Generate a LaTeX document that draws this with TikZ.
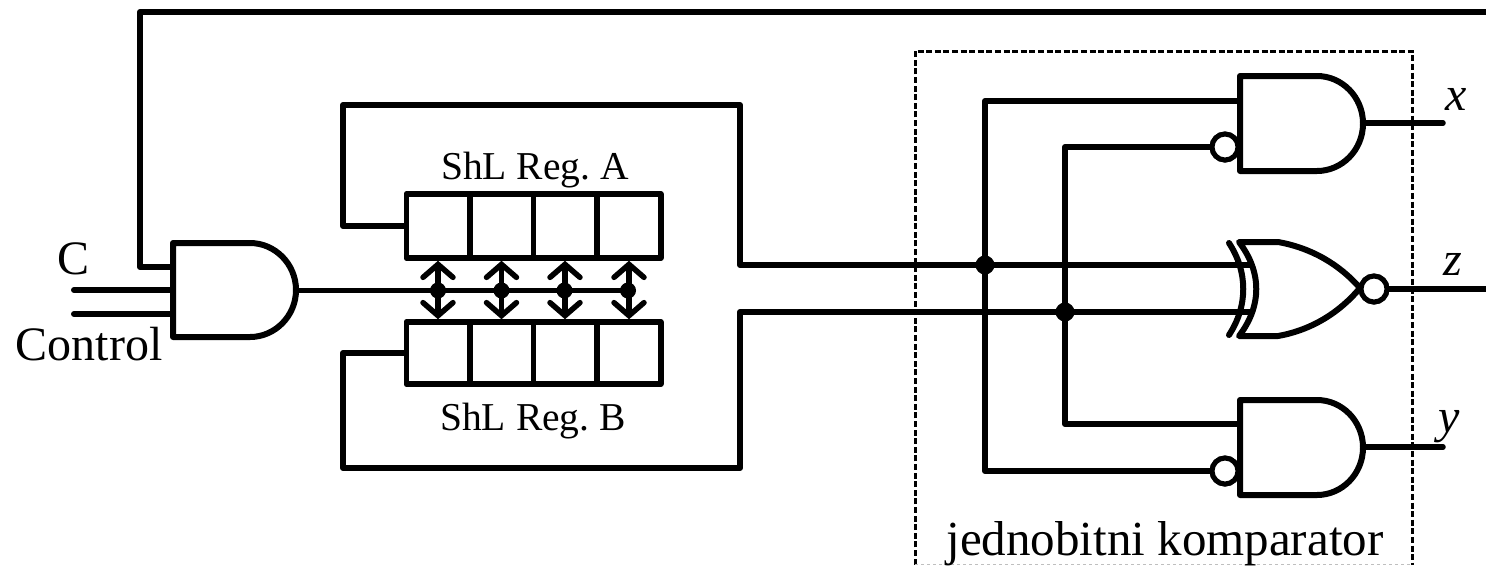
\documentclass[tikz,border=0pt]{standalone}
\usepackage{fontspec}
\setmainfont{Liberation Serif}
\usetikzlibrary{arrows.meta}
\frenchspacing
\tikzset{
  x=1pt,y=-1pt,
  wire/.style={line width=6pt,line cap=round,line join=round},
  thin wire/.style={line width=5.5pt,line cap=round,line join=round},
  gate/.style={line width=6pt,line join=round,line cap=round,fill=white},
  bubble/.style={circle,draw,line width=5pt,fill=white,minimum size=26pt,inner sep=0pt},
  joint/.style={circle,fill=black,minimum size=19pt,inner sep=0pt},
  tap/.style={circle,fill=black,minimum size=16pt,inner sep=0pt},
  cell/.style={draw,line width=5.5pt,line join=round,minimum width=63.5pt,inner sep=0pt},
  bothway/.style={line width=5.5pt,{Straight Barb[length=13pt,width=30pt,line width=5.5pt,line cap=round]}-{Straight Barb[length=13pt,width=30pt,line width=5.5pt,line cap=round]}},
  lab/.style={inner sep=0pt,font=\fontsize{48}{48}\selectfont},
  komlab/.style={inner sep=0pt,font=\fontsize{49}{49}\selectfont},
  reglab/.style={inner sep=0pt,font=\fontsize{39.5}{39.5}\selectfont},
  vlab/.style={inner sep=0pt,font=\fontsize{48}{48}\selectfont\itshape},
  boxdash/.style={dash pattern=on 6pt off 2.6pt,line width=3pt}
}
\begin{document}
\begin{tikzpicture}
\useasboundingbox (0,0) rectangle (1486,566);
\fill[white] (0,0) rectangle (1486,566);
% comparator box
\coordinate (bxBL) at (915,564.5);
\coordinate (bxTL) at (915,51);
\coordinate (bxTR) at (1412,51);
\coordinate (bxBR) at (1412,564.5);
\draw[boxdash] (bxBL) -- (bxTL) -- (bxTR) -- (bxBR);
\draw[dashed,line width=1pt,black!25] (bxBL) -- (bxBR);
\node[komlab,anchor=base] (kom) at (1165,555) {jednobitni komparator};
% points
\coordinate (fbR) at (1486,12);
\coordinate (fbC) at (140,12);
\coordinate (fbL) at (140,267);
\coordinate (cL) at (74,290);
\coordinate (ctL) at (74,314);
\coordinate (zR) at (1486,289);
\coordinate (xE) at (1443,123);
\coordinate (yE) at (1443,447);
% registers
\foreach \i/\x in {1/438,2/501.5,3/565,4/629}{
  \node[cell,minimum height=64pt] (a\i) at (\x,226) {};
  \node[cell,minimum height=62pt] (b\i) at (\x,353) {};
}
\node[reglab] (la) at (535,170) {ShL Reg. A};
\node[reglab] (lb) at (533,421) {ShL Reg. B};
% first gate
\coordinate (g1in1) at (173,267);
\coordinate (g1in2) at (173,290);
\coordinate (g1in3) at (173,314);
\coordinate (g1out) at (296,290.5);
\draw[wire] (fbR) -- (fbC) -- (fbL) -- (g1in1);
\draw[wire] (cL) -- (g1in2);
\draw[wire] (ctL) -- (g1in3);
\draw[gate] (173,243) -- (250,243) .. controls (275,243) and (296,264) .. (296,290) .. controls (296,316) and (275,337) .. (250,337) -- (173,337) -- cycle;
\node[lab,anchor=base] (C) at (74,274) {C};
\node[lab,anchor=base] (ctrl) at (89,360) {Control};
% clock bus
\foreach \i/\x in {1/438,2/501.5,3/564.5,4/628}{
  \node[tap] (t\i) at (\x,290.5) {};
  \draw[bothway] (a\i.south) -- (b\i.north);
}
\draw[thin wire] (g1out) -- (t4.center);
% loops
\draw[wire] (a1.west) -- (343,226) -- (343,105) -- (740,105) -- (740,265) -- (1250,265);
\draw[wire] (b1.west) -- (343,353) -- (343,468) -- (740,468) -- (740,312) -- (1250,312);
% comparator wires
\node[joint] (j1) at (985,265) {};
\node[joint] (j2) at (1065,312) {};
\node[bubble] (bx) at (1225,147) {};
\node[bubble] (by) at (1225,471) {};
\node[bubble] (bz) at (1374,289) {};
\draw[wire] (1240,101) -- (985,101) -- (j1.center) -- (985,471) -- (by.west);
\draw[wire] (bx.west) -- (1065,147) -- (j2.center) -- (1065,424) -- (1240,424);
% gates
\draw[gate] (1240,76) -- (1317,76) .. controls (1342,76) and (1363,97) .. (1363,123.5) .. controls (1363,150) and (1342,171) .. (1317,171) -- (1240,171) -- cycle;
\draw[gate] (1240,400) -- (1317,400) .. controls (1342,400) and (1363,421) .. (1363,447.5) .. controls (1363,474) and (1342,495) .. (1317,495) -- (1240,495) -- cycle;
\node[bubble] at (bx.center) {};
\node[bubble] at (by.center) {};
\draw[thin wire] (1363,123) -- (xE);
\draw[thin wire] (1363,447) -- (yE);
% xnor
\draw[wire] (1229,243) .. controls (1248,272) and (1248,306) .. (1229,335);
\draw[gate] (1239,242) -- (1278,242) .. controls (1312,248) and (1340,265) .. (1360,288) .. controls (1340,312) and (1312,330) .. (1278,336) -- (1239,336) .. controls (1262,306) and (1262,272) .. (1239,242) -- cycle;
\node[bubble] at (bz.center) {};
\draw[thin wire] (bz.east) -- (zR);
% output labels
\node[vlab,anchor=base] (x) at (1456,110) {x};
\node[vlab,anchor=base] (z) at (1453,275) {z};
\node[vlab,anchor=base] (y) at (1449,432) {y};
\end{tikzpicture}
\end{document}
